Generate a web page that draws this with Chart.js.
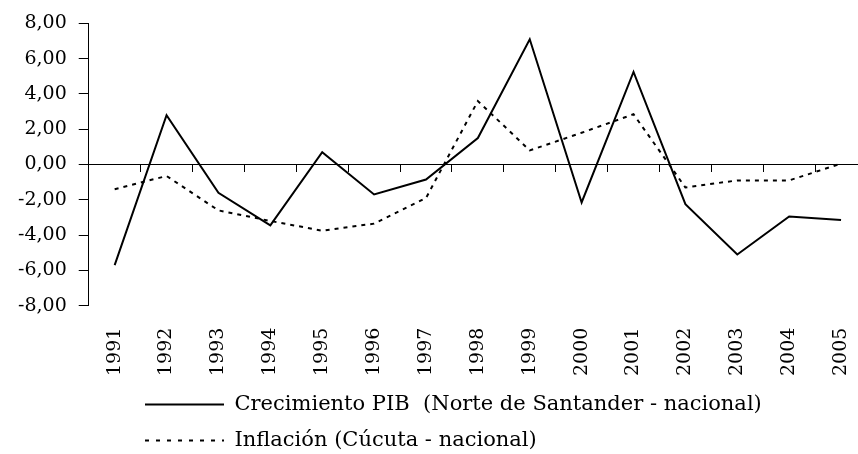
<!DOCTYPE html>
<html>
<head>
<meta charset="utf-8">
<script src="https://cdn.jsdelivr.net/npm/chart.js@4"></script>
<style>
    html, body { margin: 0; padding: 0; background: #fff; overflow: hidden; }
    #clip { width: 858px; height: 454px; overflow: hidden; position: relative; }
    #wrap { width: 870px; height: 454px; }
</style>
</head>
<body>
<div id="clip"><div id="wrap"><canvas id="pibChart"></canvas></div></div>
<script>
// Años
const years = ['1991', '1992', '1993', '1994', '1995', '1996', '1997', '1998',
               '1999', '2000', '2001', '2002', '2003', '2004', '2005'];

// Crecimiento PIB (Norte de Santander - nacional)
const pibGap = [-5.7, 2.8, -1.6, -3.45, 0.7, -1.7, -0.85, 1.5,
                7.1, -2.15, 5.25, -2.25, -5.1, -2.95, -3.15];

// Inflación (Cúcuta - nacional)
const inflGap = [-1.4, -0.65, -2.6, -3.2, -3.75, -3.35, -1.9, 3.6,
                 0.8, 1.8, 2.85, -1.3, -0.9, -0.9, 0.05];

// eje Y
const yMin = -8;
const yMax = 8;
const yStep = 2;

const serif = 'DejaVu Serif';

// mover la leyenda a la derecha (como en el original)
const legendShift = {
    id: 'legendShift',
    afterLayout(chart) {
        chart.legend.left += 124;
    }
};

const ctx = document.getElementById('pibChart');
new Chart(ctx, {
    type: 'line',
    data: {
        labels: years,
        datasets: [{
            label: 'Crecimiento PIB  (Norte de Santander - nacional)',
            data: pibGap,
            borderColor: '#000',
            borderWidth: 2,
            pointRadius: 0,
            tension: 0,
            fill: false
        }, {
            label: 'Inflación (Cúcuta - nacional)',
            data: inflGap,
            borderColor: '#000',
            borderWidth: 2,
            borderDash: [4, 5],
            pointRadius: 0,
            tension: 0,
            fill: false
        }]
    },
    options: {
        responsive: true,
        maintainAspectRatio: false,
        animation: false,
        layout: {
            // el lienzo es más ancho que la ventana: el original corta la última categoría
            padding: { top: 10, right: 3, bottom: -7, left: 6 }
        },
        plugins: {
            tooltip: { enabled: false },
            legend: {
                position: 'bottom',
                align: 'start',
                labels: {
                    color: '#000',
                    font: { family: serif, size: 21 },
                    usePointStyle: true,
                    pointStyle: 'line',
                    pointStyleWidth: 79,
                    padding: 15,
                    generateLabels(chart) {
                        const items = Chart.defaults.plugins.legend.labels.generateLabels(chart);
                        items.forEach(it => {
                            const ds = chart.data.datasets[it.datasetIndex];
                            it.lineDash = ds.borderDash ? [4, 7] : [];
                            it.lineWidth = 2;
                            it.strokeStyle = '#000';
                        });
                        return items;
                    }
                }
            }
        },
        scales: {
            x: {
                type: 'category',
                position: 'bottom',
                offset: true,
                // marcas invisibles: sólo dan el espacio entre eje y etiquetas
                grid: {
                    display: true,
                    drawOnChartArea: false,
                    drawTicks: true,
                    tickLength: 19,
                    tickColor: 'rgba(0,0,0,0)'
                },
                border: { display: false },
                ticks: {
                    color: '#000',
                    font: { family: serif, size: 19 },
                    minRotation: 90,
                    maxRotation: 90,
                    autoSkip: false,
                    padding: 3
                }
            },
            xZero: {
                type: 'category',
                position: { y: 0 },
                offset: true,
                grid: {
                    offset: true,
                    drawOnChartArea: false,
                    drawTicks: true,
                    tickLength: 7,
                    color: '#000',
                    tickColor: '#000',
                    lineWidth: 1
                },
                border: { display: true, color: '#000', width: 1 },
                ticks: { display: false }
            },
            y: {
                min: yMin,
                max: yMax,
                grid: {
                    drawOnChartArea: false,
                    tickLength: 10,
                    tickColor: '#000'
                },
                border: { display: true, color: '#000', width: 1 },
                ticks: {
                    stepSize: yStep,
                    color: '#000',
                    padding: 12,
                    font: { family: serif, size: 19 },
                    callback: v => v.toFixed(2).replace('.', ',')
                }
            }
        }
    },
    plugins: [legendShift]
});
</script>
</body>
</html>
